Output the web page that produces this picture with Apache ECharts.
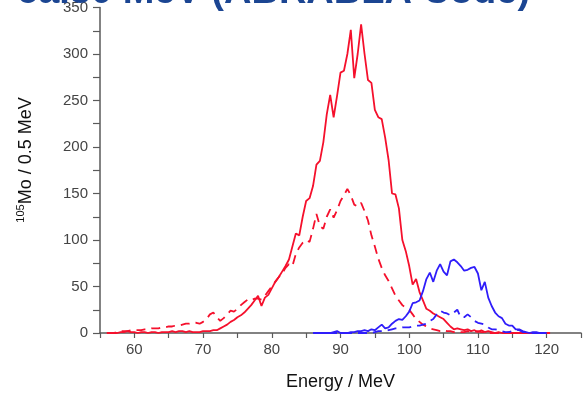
<!DOCTYPE html>
<html>
<head>
<meta charset="utf-8">
<script src="https://cdn.jsdelivr.net/npm/echarts@6/dist/echarts.min.js"></script>
<style>
  html, body { margin: 0; padding: 0; background: #fff; }
  #chart { width: 584px; height: 396px; }
</style>
</head>
<body>
<div id="chart"></div>
<script>
// 105Mo yield per 0.5 MeV bin
const binWidth = 0.5;

const redSolidStart = 56;
const redSolid = [
  0, 0, 0, 0, 1, 1, 2, 1, 1, 0, 1, 1, 0, 1, 1, 0, 1, 1, 1, 2, 1, 2, 2, 1, 2, 1,
  1, 1, 2, 2, 2, 3, 3, 5, 7, 9, 12, 14, 17, 19, 22, 26, 30, 35, 40, 29, 38, 41,
  48, 55, 60, 66, 72, 79, 93, 107, 105, 125, 142, 145, 158, 181, 185, 205, 235,
  256, 232, 255, 280, 282, 300, 326, 274, 300, 332, 300, 272, 269, 240, 232, 230,
  210, 186, 150, 149, 134, 100, 88, 72, 52, 58, 44, 35, 26, 24, 21, 19, 17, 15,
  11, 7, 4, 5, 4, 3, 4, 2, 3, 1, 3, 1, 2, 1, 0, 1, 0, 0, 1, 0, 0, 0, 0, 0, 0, 0,
  0, 0, 0, 0, 0
];

const redDashedStart = 56;
const redDashed = [
  0, 0, 0, 1, 2, 2, 2, 3, 3, 3, 3, 4, 4, 5, 5, 5, 6, 6, 7, 7, 8, 8, 9, 10, 10,
  11, 11, 10, 12, 15, 20, 22, 17, 13, 16, 20, 24, 23, 26, 30, 33, 36, 35, 37, 37,
  36, 40, 45, 50, 55, 60, 64, 70, 74, 72, 85, 92, 97, 100, 98, 112, 128, 115, 112,
  125, 133, 124, 132, 142, 148, 155, 148, 138, 136, 140, 131, 121, 105, 93, 80,
  70, 62, 56, 48, 40, 35, 30, 27, 25, 20, 15, 12, 9, 7, 5, 4, 3, 2, 3, 2, 2, 1,
  2, 1, 1, 2, 1, 1, 2, 1, 1, 0, 0, 0, 0, 0, 0, 0, 0, 0, 0, 0, 0, 0, 0, 0, 0
];

const blueSolidStart = 86;
const blueSolid = [
  0, 0, 0, 0, 0, 0, 1, 2, 0, 0, 0, 1, 1, 2, 2, 3, 2, 4, 3, 6, 9, 5, 6, 10, 13,
  15, 14, 18, 23, 32, 33, 35, 45, 58, 65, 55, 67, 74, 66, 62, 77, 79, 76, 72, 67,
  68, 70, 71, 64, 46, 55, 38, 29, 22, 18, 16, 10, 8, 8, 4, 4, 2, 1, 0, 1, 1, 0,
  0, 0
];

const blueDashedStart = 86;
const blueDashed = [
  0, 0, 0, 0, 0, 0, 0, 0, 0, 0, 0, 0, 0, 0, 0, 0, 0, 0, 1, 2, 2, 2, 3, 4, 5, 5,
  6, 6, 6, 7, 8, 8, 9, 10, 13, 15, 20, 24, 22, 21, 19, 22, 25, 17, 17, 20, 17,
  13, 11, 10, 9, 6, 4, 4, 3, 2, 1, 1, 2, 3, 3, 1, 1, 0, 0, 0, 0, 0, 0
];

const xMin = 55, xMax = 125, xStep = 5;
const yMin = 0, yMax = 350, yStep = 50;

const titleText = 'ca.30 MeV (ABRABLA Code)';
const xName = 'Energy / MeV';
const yNameSup = '105';
const yNameMain = 'Mo / 0.5 MeV';

const RED = '#f5102c';
const BLUE = '#2f1dfa';

function toPoints(start, values) {
  return values.map((v, i) => [start + i * binWidth, v]);
}

function lineSeries(name, start, values, color, dashed) {
  return {
    name: name,
    type: 'line',
    data: toPoints(start, values),
    showSymbol: false,
    silent: true,
    lineStyle: {
      color: color,
      width: 1.8,
      type: dashed ? [9, 6] : 'solid'
    }
  };
}

const chart = echarts.init(document.getElementById('chart'), null, {renderer: 'canvas'});

const axisGray = '#5a5a5a';
const labelGray = '#444';

chart.setOption({
  animation: false,
  backgroundColor: '#fff',
  grid: {left: 100, right: 0, top: 0, bottom: 60, containLabel: false},
  xAxis: {
    type: 'value',
    min: xMin,
    max: xMax,
    interval: xStep,
    splitLine: {show: false},
    axisLine: {show: true, lineStyle: {color: axisGray, width: 1.5}},
    axisTick: {show: true, length: 5, lineStyle: {color: axisGray, width: 1.2}},
    axisLabel: {
      color: labelGray,
      fontFamily: 'Liberation Sans',
      fontSize: 15,
      margin: 9,
      formatter: v => (v % 10 === 0 ? String(v) : '')
    },
    name: xName,
    nameLocation: 'middle',
    nameGap: 40,
    nameTextStyle: {color: '#111', fontFamily: 'Liberation Sans', fontSize: 18}
  },
  yAxis: {
    type: 'value',
    min: yMin,
    max: yMax,
    interval: yStep,
    splitLine: {show: false},
    axisLine: {show: true, lineStyle: {color: axisGray, width: 1.5}},
    axisTick: {show: true, length: 7, lineStyle: {color: axisGray, width: 1.2}},
    minorTick: {show: true, splitNumber: 2, length: 7, lineStyle: {color: axisGray, width: 1.2}},
    axisLabel: {color: labelGray, fontFamily: 'Liberation Sans', fontSize: 15, margin: 12}
  },
  graphic: [
    {
      type: 'text',
      left: 17,
      top: -26,
      z: 100,
      style: {
        text: titleText,
        fill: '#1b4592',
        font: 'bold 38px "Liberation Sans"'
      }
    },
    {
      type: 'text',
      x: 25,
      y: 160,
      rotation: Math.PI / 2,
      style: {
        text: '{sup|' + yNameSup + '}{main|' + yNameMain + '}',
        align: 'center',
        verticalAlign: 'middle',
        rich: {
          sup: {fontSize: 11, fontFamily: 'Liberation Sans', fill: '#111', verticalAlign: 'top', lineHeight: 20},
          main: {fontSize: 18, fontFamily: 'Liberation Sans', fill: '#111', verticalAlign: 'bottom', lineHeight: 20}
        }
      }
    }
  ],
  series: [
    lineSeries('Total', redSolidStart, redSolid, RED, false),
    lineSeries('Total (dashed)', redDashedStart, redDashed, RED, true),
    lineSeries('Blue', blueSolidStart, blueSolid, BLUE, false),
    lineSeries('Blue (dashed)', blueDashedStart, blueDashed, BLUE, true)
  ]
});
</script>
</body>
</html>
